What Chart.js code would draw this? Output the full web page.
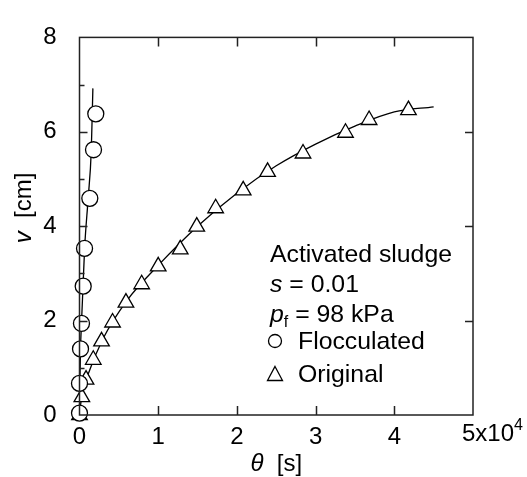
<!DOCTYPE html>
<html>
<head>
  <style>
      body { margin: 0; padding: 0; background: #fff; }
      #wrap { width: 527px; height: 477px; }
  </style>
</head>
<body>
  <div id="wrap"><canvas id="sludgeChart" width="527" height="477"></canvas></div>
  <script src="https://cdn.jsdelivr.net/npm/chart.js"></script>
  <script>
      // theta in units of 1e4 s, v in cm
      const flocTheta = [0, 0.0, 0.013, 0.025, 0.047, 0.064, 0.131, 0.178, 0.207];
      const flocV     = [0.04, 0.67, 1.40, 1.94, 2.73, 3.53, 4.59, 5.62, 6.38];
      const flocFitTheta = [0, 0.005, 0.013, 0.025, 0.045, 0.065, 0.11, 0.15, 0.17];
      const flocFitV     = [0, 0.67, 1.40, 1.94, 2.73, 3.53, 4.59, 5.62, 6.92];

      const origTheta = [0, 0.03, 0.083, 0.175, 0.28, 0.42, 0.59, 0.79, 1.0, 1.28, 1.49, 1.73, 2.08, 2.39, 2.84, 3.38, 3.68, 4.18];
      const origV     = [0.0, 0.38, 0.75, 1.17, 1.56, 1.96, 2.38, 2.77, 3.15, 3.51, 3.99, 4.38, 4.76, 5.15, 5.54, 5.98, 6.25, 6.46];
      const origFitTheta = [0, 0.03, 0.1, 0.3, 0.6, 1.0, 1.5, 2.0, 2.5, 3.0, 3.5, 4.0, 4.5];
      const origFitV     = [0, 0.42, 0.82, 1.62, 2.42, 3.17, 4.0, 4.7, 5.28, 5.74, 6.12, 6.42, 6.53];

      const xTicks = [0, 1, 2, 3, 4, 5];
      const yTicks = [0, 2, 4, 6, 8];
      const yMinor = [1, 3, 5, 7];

      const FONT = 'Arial, "Liberation Sans", sans-serif';

      function pts(xs, ys) {
          return xs.map((x, i) => ({ x: x, y: ys[i] }));
      }

      // frame, inward ticks, axis titles and the in-plot key
      const framePlugin = {
          id: 'frame',
          afterDraw(chart) {
              const ctx = chart.ctx;
              const a = chart.chartArea;
              const xs = chart.scales.x, ys = chart.scales.y;
              ctx.save();
              ctx.strokeStyle = '#222';
              ctx.lineWidth = 1.5;
              ctx.strokeRect(a.left, a.top, a.right - a.left, a.bottom - a.top);
              ctx.beginPath();
              xTicks.slice(1, -1).forEach(t => {
                  const px = Math.round(xs.getPixelForValue(t)) + 0.5;
                  ctx.moveTo(px, a.bottom); ctx.lineTo(px, a.bottom - 9);
                  ctx.moveTo(px, a.top); ctx.lineTo(px, a.top + 9);
              });
              yTicks.slice(1, -1).forEach(t => {
                  const py = Math.round(ys.getPixelForValue(t)) + 0.5;
                  ctx.moveTo(a.left, py); ctx.lineTo(a.left + 8, py);
                  ctx.moveTo(a.right, py); ctx.lineTo(a.right - 8, py);
              });
              yMinor.forEach(t => {
                  const py = Math.round(ys.getPixelForValue(t)) + 0.5;
                  ctx.moveTo(a.left, py); ctx.lineTo(a.left + 5, py);
              });
              ctx.stroke();

              ctx.fillStyle = '#000';
              ctx.textBaseline = 'alphabetic';

              // last x tick label with its exponent
              const lx = xs.getPixelForValue(5) - 11;
              ctx.font = '24px ' + FONT;
              ctx.fillText('5x10', lx, 441);
              ctx.font = '16px ' + FONT;
              ctx.fillText('4', lx + ctx.measureText('5x10').width * 1.5, 430);

              // x title
              const th = 'θ', rest = '  [s]';
              ctx.font = 'italic 24px ' + FONT;
              const w1 = ctx.measureText(th).width;
              ctx.font = '24px ' + FONT;
              const w2 = ctx.measureText(rest).width;
              const x0 = (a.left + a.right) / 2 - (w1 + w2) / 2;
              ctx.font = 'italic 24px ' + FONT;
              ctx.fillText(th, x0, 471);
              ctx.font = '24px ' + FONT;
              ctx.fillText(rest, x0 + w1, 471);

              // y title
              ctx.save();
              ctx.translate(31, 208);
              ctx.rotate(-Math.PI / 2);
              ctx.font = 'italic 24px ' + FONT;
              const v1 = ctx.measureText('v').width;
              ctx.font = '24px ' + FONT;
              const v2 = ctx.measureText('  [cm]').width;
              ctx.font = 'italic 24px ' + FONT;
              ctx.fillText('v', -(v1 + v2) / 2, 0);
              ctx.font = '24px ' + FONT;
              ctx.fillText('  [cm]', -(v1 + v2) / 2 + v1, 0);
              ctx.restore();

              // key
              const kx = 270;
              const KF = '24.8px ' + FONT;
              ctx.font = KF;
              ctx.fillText('Activated sludge', kx, 262);
              ctx.font = 'italic ' + KF;
              ctx.fillText('s', kx, 292);
              const sw = ctx.measureText('s').width;
              ctx.font = KF;
              ctx.fillText(' = 0.01', kx + sw, 292);
              ctx.font = 'italic ' + KF;
              ctx.fillText('p', kx, 322);
              const pw = ctx.measureText('p').width;
              ctx.font = '16px ' + FONT;
              ctx.fillText('f', kx + pw, 327);
              const fw = ctx.measureText('f').width;
              ctx.font = KF;
              ctx.fillText(' = 98 kPa', kx + pw + fw, 322);
              ctx.fillText('Flocculated', 298, 349);
              ctx.fillText('Original', 298, 382);

              ctx.lineWidth = 1.3;
              ctx.strokeStyle = '#000';
              ctx.beginPath();
              ctx.arc(275, 341, 6.5, 0, Math.PI * 2);
              ctx.stroke();
              ctx.beginPath();
              ctx.moveTo(275, 366.5);
              ctx.lineTo(282.5, 380.5);
              ctx.lineTo(267.5, 380.5);
              ctx.closePath();
              ctx.stroke();
              ctx.restore();
          }
      };

      const ctx = document.getElementById('sludgeChart').getContext('2d');
      const chart = new Chart(ctx, {
          type: 'scatter',
          data: {
              datasets: [
                  {
                      label: 'Flocculated',
                      data: pts(flocTheta, flocV),
                      pointStyle: 'circle',
                      pointRadius: 8,
                      pointBackgroundColor: '#fff',
                      pointBorderColor: '#000',
                      pointBorderWidth: 1.3,
                      showLine: false
                  },
                  {
                      label: 'Original',
                      data: pts(origTheta, origV),
                      pointStyle: 'triangle',
                      pointRadius: 9,
                      pointBackgroundColor: '#fff',
                      pointBorderColor: '#000',
                      pointBorderWidth: 1.3,
                      showLine: false
                  },
                  {
                      label: 'Flocculated fit',
                      data: pts(flocFitTheta, flocFitV),
                      showLine: true,
                      borderColor: '#000',
                      borderWidth: 1.3,
                      pointRadius: 0,
                      cubicInterpolationMode: 'monotone'
                  },
                  {
                      label: 'Original fit',
                      data: pts(origFitTheta, origFitV),
                      showLine: true,
                      borderColor: '#000',
                      borderWidth: 1.3,
                      pointRadius: 0,
                      cubicInterpolationMode: 'monotone'
                  }
              ]
          },
          options: {
              responsive: false,
              animation: false,
              clip: false,
              layout: { padding: { top: 20, right: 54, bottom: 0, left: 0 } },
              plugins: { legend: { display: false }, tooltip: { enabled: false } },
              scales: {
                  x: {
                      type: 'linear',
                      min: 0, max: 5,
                      afterFit: s => { s.height = 62; },
                      afterBuildTicks: s => { s.ticks = xTicks.map(v => ({ value: v })); },
                      grid: { display: false, drawTicks: false },
                      border: { display: false },
                      ticks: {
                          padding: 8,
                          color: '#000',
                          font: { family: FONT, size: 24 },
                          maxRotation: 0,
                          callback: v => v === 5 ? '' : String(v)
                      }
                  },
                  y: {
                      type: 'linear',
                      min: 0, max: 8,
                      afterFit: s => { s.width = 79.5; },
                      afterBuildTicks: s => { s.ticks = yTicks.map(v => ({ value: v })); },
                      grid: { display: false, drawTicks: false },
                      border: { display: false },
                      ticks: {
                          padding: 23,
                          color: '#000',
                          font: { family: FONT, size: 24 }
                      }
                  }
              }
          },
          plugins: [framePlugin]
      });
  </script>
</body>
</html>
